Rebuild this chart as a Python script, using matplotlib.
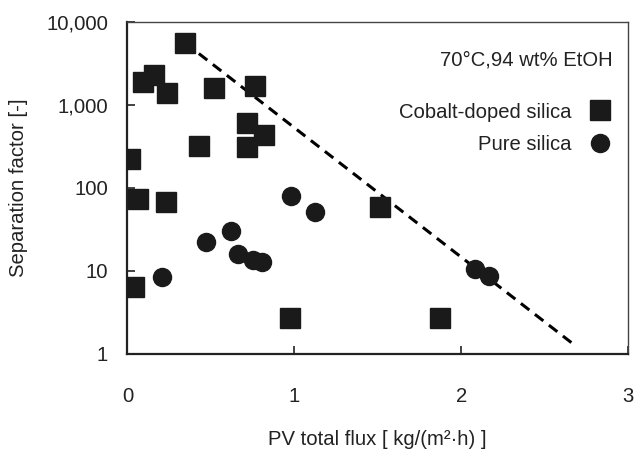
import matplotlib
matplotlib.use("Agg")
import matplotlib.pyplot as plt
from matplotlib.ticker import FuncFormatter, NullLocator

plt.rcParams['font.family'] = ['Liberation Sans', 'DejaVu Sans']

# Cobalt-doped silica (squares)
cobalt_flux = [0.344, 0.095, 0.159, 0.235, 0.52, 0.763, 0.717, 0.817, 0.714, 0.428,
               0.015, 0.065, 0.229, 0.041, 0.977, 1.512, 1.871]
cobalt_sep = [5630, 1910, 2300, 1380, 1590, 1690, 602, 435, 315, 321,
              222, 73, 68, 6.4, 2.7, 58.5, 2.7]

# Pure silica (circles)
pure_flux = [0.983, 1.123, 0.468, 0.618, 0.663, 0.753, 0.807, 0.205, 2.081, 2.166]
pure_sep = [80, 51.8, 22.5, 30.3, 16, 13.6, 12.8, 8.5, 10.6, 8.7]

# upper bound trend line
trend_flux = [0.344, 2.68]
trend_sep = [5630, 1.28]

fs = 14.6

fig = plt.figure(figsize=(6.34, 4.49), dpi=100)
ax = fig.add_axes([0.201, 0.2116, 0.7895, 0.7394])

ax.plot(trend_flux, trend_sep, color='black', lw=2.2, linestyle=(0, (3.5, 2.3)), zorder=2)
ax.plot(cobalt_flux, cobalt_sep, 's', color='#1a1a1a', markersize=14.5, linestyle='none',
        label='Cobalt-doped silica', zorder=3)
ax.plot(pure_flux, pure_sep, 'o', color='#1a1a1a', markersize=13, linestyle='none',
        label='Pure silica', zorder=3)

ax.set_yscale('log')
ax.set_xlim(0, 3)
ax.set_ylim(1, 10000)
ax.set_xticks([0, 1, 2, 3])
ax.set_yticks([1, 10, 100, 1000, 10000])
ax.yaxis.set_minor_locator(NullLocator())
ax.yaxis.set_major_formatter(FuncFormatter(lambda v, p: '{:,.0f}'.format(v)))
ax.tick_params(axis='x', direction='in', length=6, width=1.2, pad=24, labelsize=fs, colors='#222')
ax.tick_params(axis='y', direction='in', length=6, width=1.2, pad=14, labelsize=fs, colors='#222')

for side in ['left', 'bottom']:
    ax.spines[side].set_linewidth(1.6)
    ax.spines[side].set_color('#222')
for side in ['top', 'right']:
    ax.spines[side].set_linewidth(1.0)
    ax.spines[side].set_color('#444')

ax.set_ylabel('Separation factor [-]', fontsize=fs, color='#222', labelpad=13)
ax.set_xlabel('PV total flux [ kg/(m\u00b2\u00b7h) ]', fontsize=fs, color='#222', labelpad=17)

ax.text(0.97, 0.885, '70\u00b0C,94 wt% EtOH', transform=ax.transAxes, ha='right', va='center',
        fontsize=fs, color='#222')
ax.legend(loc='upper right', bbox_to_anchor=(0.993, 0.8), frameon=False, markerfirst=False,
          fontsize=fs, handletextpad=0.9, labelspacing=0.65, handlelength=1.0, labelcolor='#222',
          borderaxespad=0.3)

fig.savefig('out.png', dpi=100)
